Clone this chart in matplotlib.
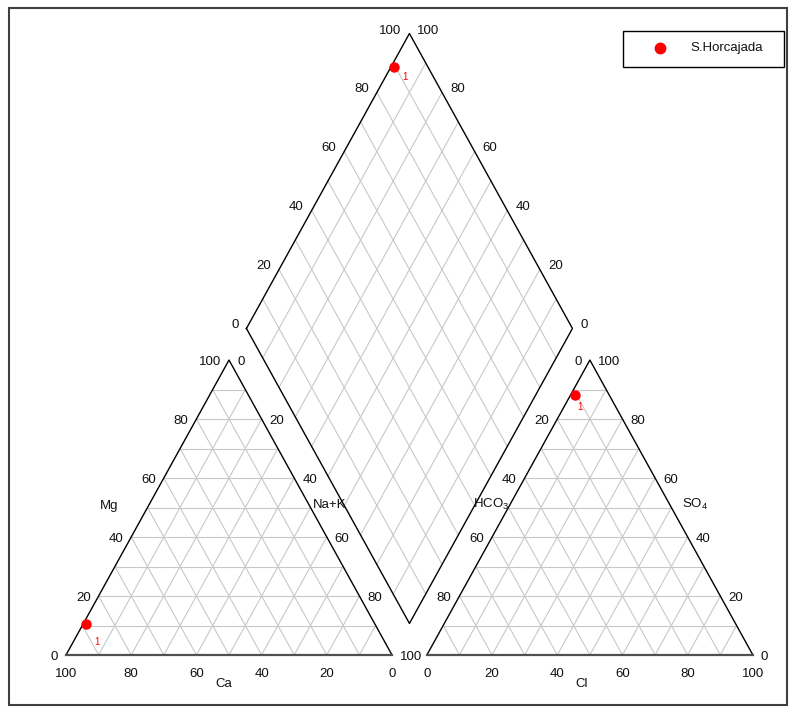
import numpy as np
import matplotlib
matplotlib.use("Agg")
import matplotlib.pyplot as plt
from matplotlib.patches import Rectangle

plt.rcParams['font.family'] = ['Liberation Sans', 'DejaVu Sans']
plt.rcParams['mathtext.fontset'] = 'custom'
plt.rcParams['mathtext.rm'] = 'Liberation Sans'

# sample composition (% meq/l)
sample_names = ['S.Horcajada']
sample_ids = ['1']
ca = [88.5]
mg = [10.5]
na_k = [1.0]
hco3 = [10.5]
so4 = [88.0]
cl = [1.5]

tick_values = [0, 20, 40, 60, 80, 100]

# layout in data units: triangle side 100, gap between triangles
H = np.sqrt(3) / 2 * 100
GAP = 10.7
X_RIGHT = 100 + GAP
GRID = '#c8c8c8'
FS = 9.5

# pixel scale used for the axes limits
SX, SY = 3.26, 3.406
X0_PX, Y0_PX = 66, 655
W_PX, H_PX = 799, 719

fig = plt.figure(figsize=(W_PX / 100, H_PX / 100), dpi=100)
ax = fig.add_axes([0, 0, 1, 1])
ax.set_xlim(-X0_PX / SX, (W_PX - X0_PX) / SX)
ax.set_ylim((Y0_PX - H_PX) / SY, Y0_PX / SY)
ax.axis('off')


def tri_xy(right, top, origin):
    # right = fraction toward bottom-right corner, top = fraction toward apex
    return origin + 100 * (right + top / 2), H * top


def draw_triangle(origin):
    for i in range(1, 10):
        f = i / 10
        ax.plot([origin + 50 * f, origin + 100 - 50 * f], [H * f, H * f], color=GRID, lw=0.8, zorder=1)
        ax.plot([origin + 100 * f, origin + 100 * f + 50 * (1 - f)], [0, H * (1 - f)], color=GRID, lw=0.8, zorder=1)
        ax.plot([origin + 100 * f, origin + 50 * f], [0, H * f], color=GRID, lw=0.8, zorder=1)
    ax.plot([origin, origin + 50, origin + 100], [0, H, 0], color='black', lw=1.0, zorder=2)
    ax.plot([origin, origin + 100], [0, 0], color='#505050', lw=1.6, zorder=2)


# diamond corners
L = np.array([50 + GAP / 2, H + GAP * np.sqrt(3) / 2])
T = L + np.array([50, H])
B = L + np.array([50, -H])
R = L + np.array([100, 0])


def diamond_xy(anion_frac, cation_frac):
    p = L + anion_frac * (T - L) + cation_frac * (B - L)
    return p[0], p[1]


def draw_diamond():
    for i in range(1, 10):
        f = i / 10
        p = L + f * (T - L)
        q = p + (B - L)
        ax.plot([p[0], q[0]], [p[1], q[1]], color=GRID, lw=0.8, zorder=1)
        p = L + f * (B - L)
        q = p + (T - L)
        ax.plot([p[0], q[0]], [p[1], q[1]], color=GRID, lw=0.8, zorder=1)
    pts = np.array([L, T, R, B, L])
    ax.plot(pts[:, 0], pts[:, 1], color='black', lw=1.0, zorder=2)


def label(x, y, s, dx, dy, ha, **kw):
    # dx, dy in pixels
    ax.annotate(s, (x, y), xytext=(dx * 0.72, -dy * 0.72), textcoords='offset points',
                ha=ha, va='center', fontsize=kw.pop('fontsize', FS), color=kw.pop('color', '#111111'), **kw)


draw_triangle(0)
draw_triangle(X_RIGHT)
draw_diamond()

# tick labels of the cation triangle
for v in tick_values:
    f = v / 100
    x, y = tri_xy(0, f, 0)
    label(x, y, str(v), -8, 2, 'right')
    x, y = tri_xy(f, 1 - f, 0)
    label(x, y, str(v), 8, 2, 'left')
    x, y = tri_xy(1 - f, 0, 0)
    label(x, y, str(v), 0, 19, 'center')

# tick labels of the anion triangle (the 100 at the lower-left corner is shared with Na+K)
for v in tick_values:
    f = v / 100
    if v < 100:
        x, y = tri_xy(0, 1 - f, X_RIGHT)
        label(x, y, str(v), -8, 2, 'right')
    x, y = tri_xy(1 - f, f, X_RIGHT)
    label(x, y, str(v), 8, 2, 'left')
    x, y = tri_xy(f, 0, X_RIGHT)
    label(x, y, str(v), 0, 19, 'center')

# tick labels of the diamond
for v in tick_values:
    f = v / 100
    p = L + f * (T - L)
    label(p[0], p[1], str(v), -8, -3, 'right')
    p = R + f * (T - R)
    label(p[0], p[1], str(v), 8, -3, 'left')

# axis titles
x, y = tri_xy(0, 0.5, 0)
label(x, y, 'Mg', -29, -2, 'right')
x, y = tri_xy(0.5, 0.5, 0)
label(x, y, 'Na+K', 2, -3, 'left')
x, y = tri_xy(0.5, 0, 0)
label(x, y, 'Ca', -5, 29, 'center')
x, y = tri_xy(0, 0.5, X_RIGHT)
label(x, y, 'HCO$_\\mathregular{3}$', 1, -3, 'right')
x, y = tri_xy(0.5, 0.5, X_RIGHT)
label(x, y, 'SO$_\\mathregular{4}$', 11, -3, 'left')
x, y = tri_xy(0.5, 0, X_RIGHT)
label(x, y, 'Cl', -8, 29, 'center')

# samples
for i in range(len(sample_ids)):
    ct = ca[i] + mg[i] + na_k[i]
    at = hco3[i] + so4[i] + cl[i]
    cx, cy = tri_xy(na_k[i] / ct, mg[i] / ct, 0)
    axx, axy = tri_xy(cl[i] / at, so4[i] / at, X_RIGHT)
    dx, dy = diamond_xy((so4[i] + cl[i]) / at, na_k[i] / ct)
    for (px, py), off in [((cx, cy), (11, 18)), ((axx, axy), (5, 12)), ((dx, dy), (11, 10))]:
        ax.plot(px, py, 'o', color='red', ms=6.5, mec='red', zorder=5, clip_on=False)
        label(px, py, sample_ids[i], off[0], off[1], 'center', fontsize=7, color='red')

# legend box
fig.add_artist(Rectangle((623 / W_PX, 1 - 67 / H_PX), 161 / W_PX, 36 / H_PX, transform=fig.transFigure,
                         fill=False, ec='black', lw=1.0))
fig.add_artist(plt.Line2D([660 / W_PX], [1 - 48 / H_PX], transform=fig.transFigure, marker='o',
                          color='red', ms=7.5, ls='none'))
fig.text(690 / W_PX, 1 - 48 / H_PX, sample_names[0], ha='left', va='center', fontsize=FS, color='#111111')

# outer frame
fig.add_artist(Rectangle((9 / W_PX, 1 - 705 / H_PX), 778 / W_PX, 697 / H_PX, transform=fig.transFigure,
                         fill=False, ec='#404040', lw=1.5))

fig.savefig('out.png', dpi=100)
